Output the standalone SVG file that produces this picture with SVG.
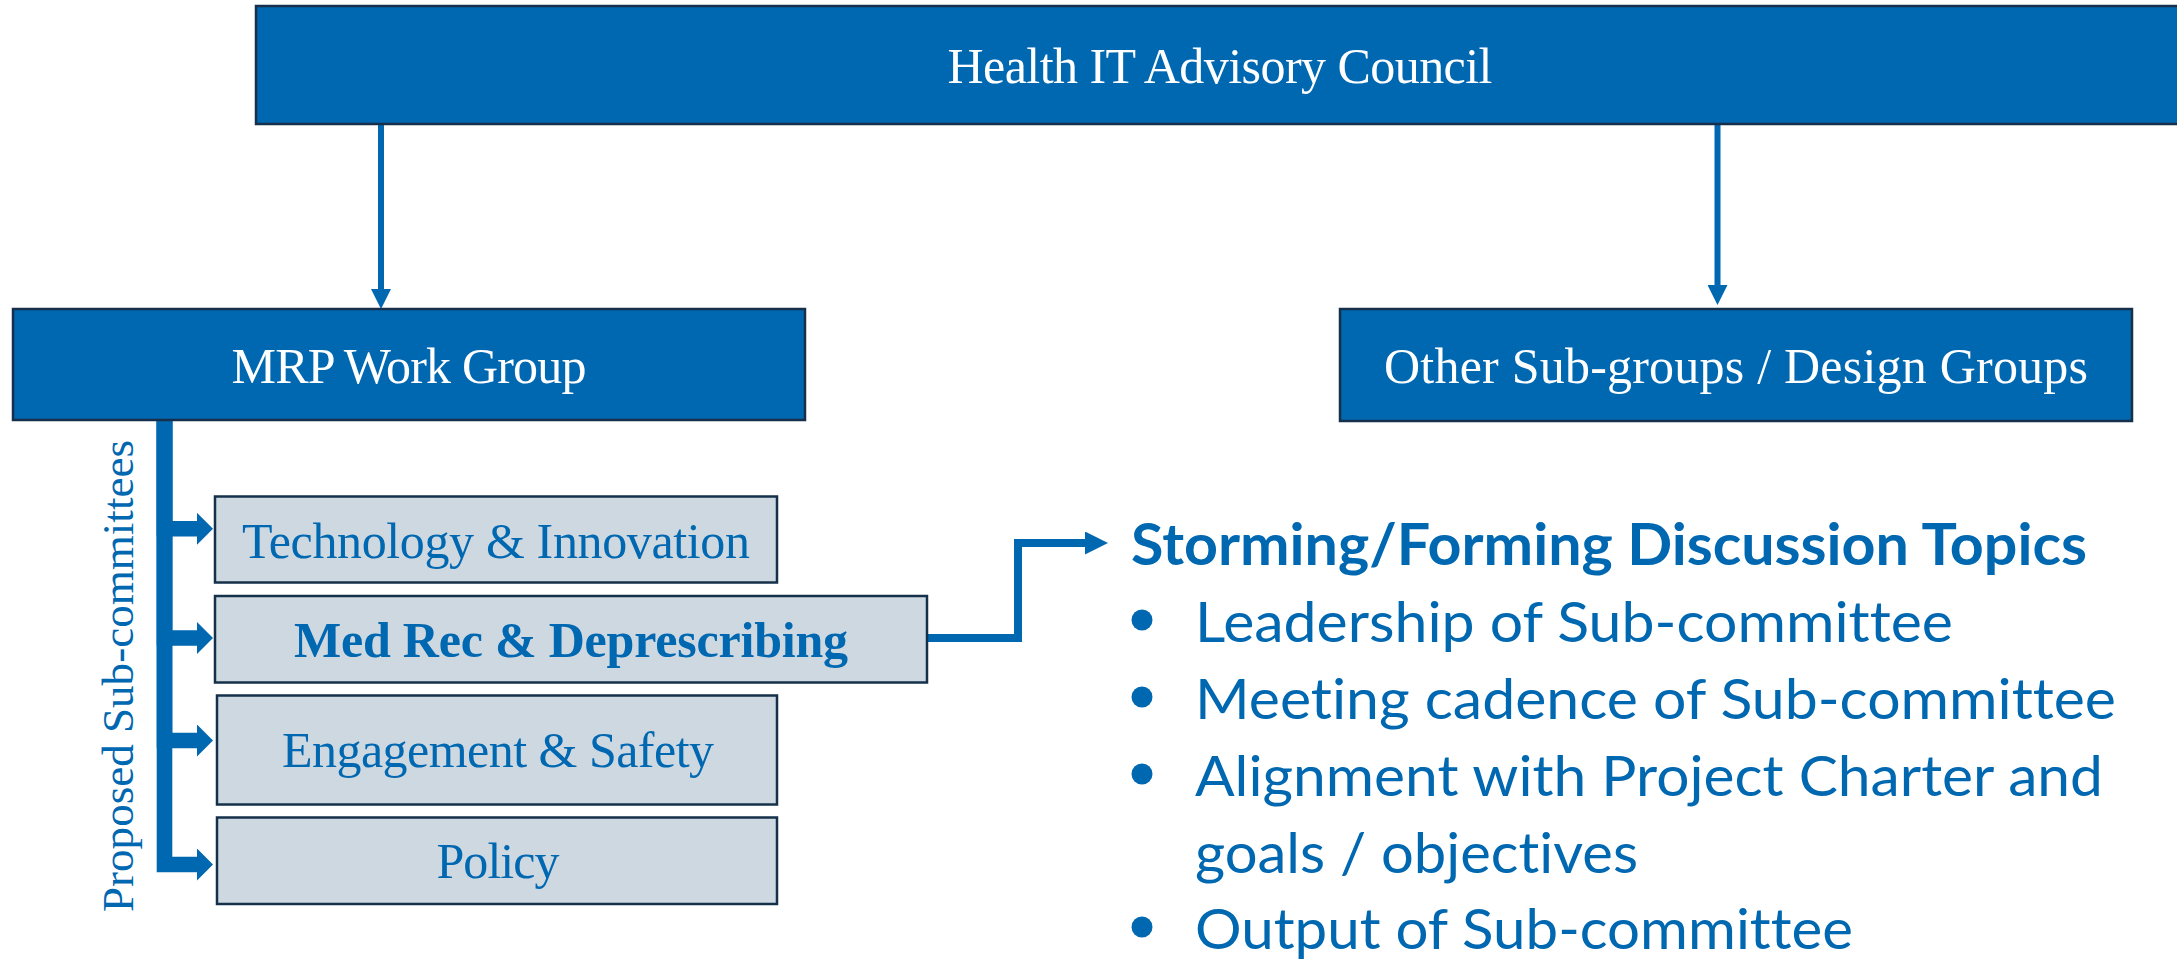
<svg xmlns="http://www.w3.org/2000/svg" width="2177" height="959" viewBox="0 0 2177 959">
  <style>
    .bluebox { fill: #0067B1; stroke: #16304C; stroke-width: 2.5; }
    .graybox { fill: #CDD8E0; stroke: #14304A; stroke-width: 2.5; }
    .serif { font-family: "Liberation Serif", "Times New Roman", serif; font-size: 50px; text-anchor: middle; }
    .white { fill: #FFFFFF; }
    .blue { fill: #0067B1; }
    .sans { font-family: Lato, "Noto Sans", "Liberation Sans", sans-serif; fill: #0067B1; font-size: 57px; font-variant-ligatures: none; }
    .conn { fill: none; stroke: #0067B1; stroke-linejoin: miter; }
  </style>
  <defs>
    <marker id="headDown" markerUnits="userSpaceOnUse" viewBox="0 0 20 20" markerWidth="20" markerHeight="20" refX="0" refY="10" orient="auto">
      <polygon points="0,0 20,10 0,20" fill="#0067B1"/>
    </marker>
    <marker id="headBranch" markerUnits="userSpaceOnUse" viewBox="0 0 16 32" markerWidth="16" markerHeight="32" refX="0" refY="16" orient="auto">
      <polygon points="0,0 16,16 0,32" fill="#0067B1"/>
    </marker>
    <marker id="headTopic" markerUnits="userSpaceOnUse" viewBox="0 0 23 23" markerWidth="23" markerHeight="23" refX="0" refY="11.5" orient="auto">
      <polygon points="0,0 23,11.5 0,23" fill="#0067B1"/>
    </marker>
  </defs>

  <g id="connectors">
    <path class="conn" d="M381,125 V289" stroke-width="6" marker-end="url(#headDown)"/>
    <path class="conn" d="M1717.5,124 V285" stroke-width="6" marker-end="url(#headDown)"/>
    <path class="conn" d="M164.5,420 V528.8 H197" stroke-width="15.6" marker-end="url(#headBranch)"/>
    <path class="conn" d="M164.5,420 V638 H197" stroke-width="15.6" marker-end="url(#headBranch)"/>
    <path class="conn" d="M164.5,420 V740.5 H197" stroke-width="15.6" marker-end="url(#headBranch)"/>
    <path class="conn" d="M164.5,420 V864.5 H197" stroke-width="15.6" marker-end="url(#headBranch)"/>
    <path class="conn" d="M927,638 H1018 V543 H1085" stroke-width="8" marker-end="url(#headTopic)"/>
  </g>

  <g id="health-it-advisory-council">
    <rect class="bluebox" x="256" y="6" width="1930" height="118"/>
    <text class="serif white" x="1220" y="83" textLength="545">Health IT Advisory Council</text>
  </g>

  <g id="mrp-work-group">
    <rect class="bluebox" x="13" y="309" width="792" height="111"/>
    <text class="serif white" x="409" y="383" textLength="355">MRP Work Group</text>
  </g>

  <g id="other-sub-groups">
    <rect class="bluebox" x="1340" y="309" width="792" height="112"/>
    <text class="serif white" x="1736" y="383" textLength="704">Other Sub-groups / Design Groups</text>
  </g>

  <g id="proposed-sub-committees-label">
    <text transform="translate(133,912) rotate(-90)" x="0" y="0" font-family="'Liberation Serif', 'Times New Roman', serif" font-size="45" fill="#0067B1" textLength="472">Proposed Sub-committees</text>
  </g>

  <g id="technology-innovation">
    <rect class="graybox" x="215" y="496.5" width="562" height="86"/>
    <text class="serif blue" x="496" y="558" textLength="508">Technology &amp; Innovation</text>
  </g>

  <g id="med-rec-deprescribing">
    <rect class="graybox" x="215" y="596" width="712" height="86.5"/>
    <text class="serif blue" x="571" y="657" font-weight="bold" textLength="554">Med Rec &amp; Deprescribing</text>
  </g>

  <g id="engagement-safety">
    <rect class="graybox" x="217" y="695.5" width="560" height="109"/>
    <text class="serif blue" x="498" y="767" textLength="432">Engagement &amp; Safety</text>
  </g>

  <g id="policy">
    <rect class="graybox" x="217" y="817.5" width="560" height="86.5"/>
    <text class="serif blue" x="498" y="878" textLength="123">Policy</text>
  </g>

  <g id="discussion-topics">
    <text class="sans" x="1131" y="565" font-weight="bold" textLength="956" lengthAdjust="spacingAndGlyphs">Storming/Forming Discussion Topics</text>
    <circle cx="1142" cy="620" r="10.5" fill="#0067B1"/>
    <text class="sans" x="1195" y="642" textLength="758" lengthAdjust="spacingAndGlyphs">Leadership of Sub-committee</text>
    <circle cx="1142" cy="697" r="10.5" fill="#0067B1"/>
    <text class="sans" x="1195" y="719" textLength="921" lengthAdjust="spacingAndGlyphs">Meeting cadence of Sub-committee</text>
    <circle cx="1142" cy="774" r="10.5" fill="#0067B1"/>
    <text class="sans" x="1195" y="796" textLength="908" lengthAdjust="spacingAndGlyphs">Alignment with Project Charter and</text>
    <text class="sans" x="1195" y="873" textLength="443" lengthAdjust="spacingAndGlyphs">goals / objectives</text>
    <circle cx="1142" cy="927" r="10.5" fill="#0067B1"/>
    <text class="sans" x="1195" y="949" textLength="658" lengthAdjust="spacingAndGlyphs">Output of Sub-committee</text>
  </g>
</svg>
